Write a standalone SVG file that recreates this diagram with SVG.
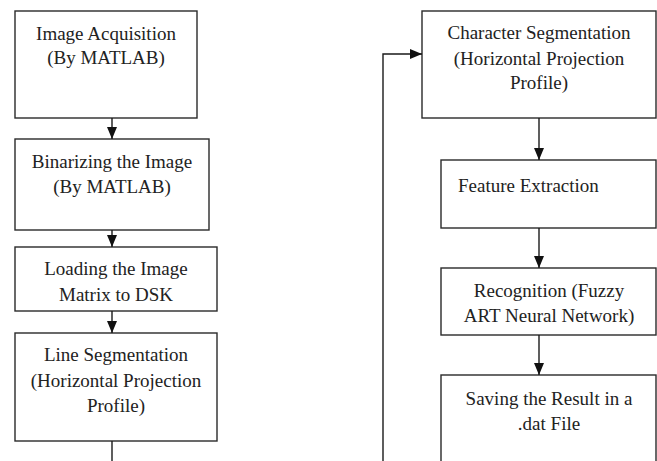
<svg xmlns="http://www.w3.org/2000/svg" width="657" height="461" viewBox="0 0 657 461">
<style>
.box{fill:#fff;stroke:#2a2a2a;stroke-width:1.4}
.t{font-family:"Times New Roman","Liberation Serif",Tinos,"DejaVu Serif",serif;font-size:19px;fill:#222;text-anchor:middle}
.ts{text-anchor:start}
.c{fill:none;stroke:#1a1a1a;stroke-width:1.4}
</style>
<defs>
<marker id="ah" markerUnits="userSpaceOnUse" markerWidth="13" markerHeight="11" refX="12" refY="5" orient="auto">
<path d="M0,0 L12,5 L0,10 z" fill="#111"/>
</marker>
</defs>
<rect width="657" height="461" fill="#fff"/>
<g id="n1"><rect class="box" x="15" y="11" width="182" height="107"/>
<text class="t" x="106" y="40">Image Acquisition</text><text class="t" x="106" y="64">(By MATLAB)</text></g>
<g id="n2"><rect class="box" x="15" y="139" width="194" height="91"/>
<text class="t" x="112" y="168">Binarizing the Image</text><text class="t" x="112" y="193">(By MATLAB)</text></g>
<g id="n3"><rect class="box" x="15" y="247" width="202" height="64"/>
<text class="t" x="116" y="275">Loading the Image</text><text class="t" x="116" y="301">Matrix to DSK</text></g>
<g id="n4"><rect class="box" x="15" y="333" width="202" height="108"/>
<text class="t" x="116" y="361">Line Segmentation</text><text class="t" x="116" y="387">(Horizontal Projection</text><text class="t" x="116" y="412">Profile)</text></g>
<g id="n5"><rect class="box" x="422" y="11" width="234" height="107"/>
<text class="t" x="539" y="39">Character Segmentation</text><text class="t" x="539" y="65">(Horizontal Projection</text><text class="t" x="539" y="89">Profile)</text></g>
<g id="n6"><rect class="box" x="441" y="160" width="215" height="68"/>
<text class="t ts" x="458" y="192">Feature Extraction</text></g>
<g id="n7"><rect class="box" x="441" y="268" width="215" height="67"/>
<text class="t" x="549" y="297">Recognition (Fuzzy</text><text class="t" x="549" y="322">ART Neural Network)</text></g>
<g id="n8"><rect class="box" x="441" y="375" width="215" height="100"/>
<text class="t" x="549" y="405">Saving the Result in a</text><text class="t" x="549" y="430">.dat File</text></g>
<g id="connectors">
<path class="c" d="M112,118 V139" marker-end="url(#ah)"/>
<path class="c" d="M112,230 V247" marker-end="url(#ah)"/>
<path class="c" d="M112,311 V333" marker-end="url(#ah)"/>
<path class="c" d="M112,441 V461"/>
<path class="c" d="M383,461 V54 H422" marker-end="url(#ah)"/>
<path class="c" d="M539,118 V160" marker-end="url(#ah)"/>
<path class="c" d="M539,228 V268" marker-end="url(#ah)"/>
<path class="c" d="M539,335 V375" marker-end="url(#ah)"/>
</g>
</svg>
